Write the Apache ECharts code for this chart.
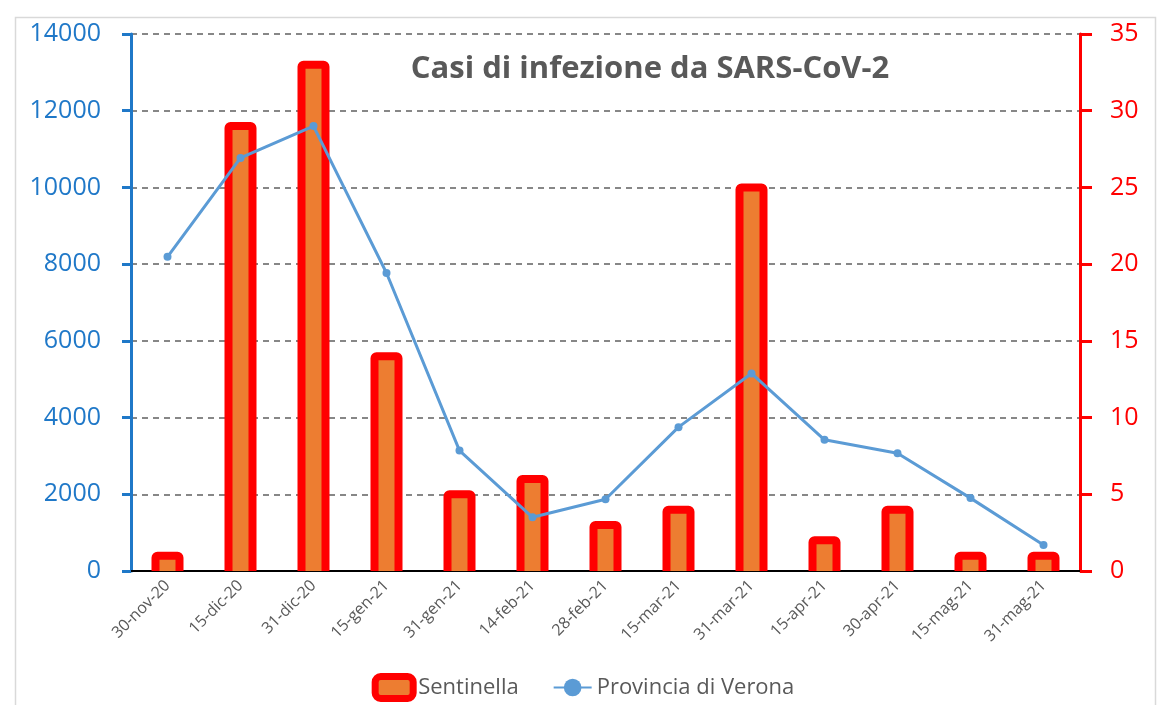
<!DOCTYPE html>
<html>
<head>
<meta charset="utf-8">
<script src="https://cdn.jsdelivr.net/npm/echarts@6/dist/echarts.min.js"></script>
<style>html,body{margin:0;padding:0;background:#fff;}#c{width:1166px;height:705px;}</style>
</head>
<body>
<div id="c"></div>
<script>
const categories = ['30-nov-20','15-dic-20','31-dic-20','15-gen-21','31-gen-21','14-feb-21','28-feb-21','15-mar-21','31-mar-21','15-apr-21','30-apr-21','15-mag-21','31-mag-21'];
const sentinella = [1, 29, 33, 14, 5, 6, 3, 4, 25, 2, 4, 1, 1];
const verona = [8190, 10770, 11600, 7770, 3140, 1400, 1870, 3750, 5150, 3420, 3070, 1900, 680];
const leftTicks = {min: 0, max: 14000, interval: 2000};
const rightTicks = {min: 0, max: 35, interval: 5};

const BAR_W = 24, BORDER = 8;
const chart = echarts.init(document.getElementById('c'));
chart.setOption({
  animation: false,
  backgroundColor: '#fff',
  graphic: [{
    type: 'rect', left: 13, top: 15, shape: {width: 1140, height: 700},
    style: {fill: 'none', stroke: '#D9D9D9', lineWidth: 1.5}, silent: true, z: -1
  }],
  title: {
    text: 'Casi di infezione da SARS-CoV-2',
    left: 645, top: 49, textAlign: 'center',
    textStyle: {fontFamily: 'Open Sans', fontWeight: 'bold', fontSize: 31, color: '#595959'}
  },
  grid: {left: 131, right: 86, top: 34, bottom: 134, containLabel: false},
  legend: {
    bottom: -2, left: 'center', itemGap: 34,
    textStyle: {fontFamily: 'Open Sans', fontSize: 22, color: '#595959'},
    data: [
      {name: 'Sentinella', itemStyle: {color: '#ED7D31', borderColor: '#FF0000', borderWidth: 7}, icon: 'roundRect'},
      {name: 'Provincia di Verona'}
    ],
    itemWidth: 38, itemHeight: 22
  },
  xAxis: {
    type: 'category', data: categories,
    axisLine: {show: true, lineStyle: {color: '#000', width: 2}},
    axisTick: {show: false},
    axisLabel: {rotate: 45, margin: 12, fontFamily: 'Open Sans', fontSize: 16, color: '#595959', interval: 0}
  },
  yAxis: [{
    type: 'value', position: 'left', min: leftTicks.min, max: leftTicks.max, interval: leftTicks.interval,
    axisLine: {show: true, lineStyle: {color: '#1F78C8', width: 3}},
    axisTick: {show: true, length: 9, lineStyle: {color: '#1F78C8', width: 3}},
    axisLabel: {margin: 30, fontFamily: 'Open Sans', fontSize: 25, color: '#1F78C8', formatter: v => String(v)},
    splitLine: {show: true, lineStyle: {type: [6, 5], color: '#606060', width: 1.5}}
  }, {
    type: 'value', position: 'right', min: rightTicks.min, max: rightTicks.max, interval: rightTicks.interval,
    axisLine: {show: true, lineStyle: {color: '#FF0000', width: 3}},
    axisTick: {show: true, length: 12, lineStyle: {color: '#FF0000', width: 3}},
    axisLabel: {margin: 30, fontFamily: 'Open Sans', fontSize: 25, color: '#FF0000'},
    splitLine: {show: false}
  }],
  series: [{
    name: 'Sentinella', type: 'custom', yAxisIndex: 1,
    data: sentinella.map((v, i) => [i, v]),
    encode: {x: 0, y: 1},
    clip: true,
    itemStyle: {color: '#ED7D31', borderColor: '#FF0000', borderWidth: 7},
    renderItem: function (params, api) {
      const top = api.coord([api.value(0), api.value(1)]);
      const base = api.coord([api.value(0), 0]);
      return {
        type: 'rect',
        shape: {x: top[0] - BAR_W / 2, y: top[1], width: BAR_W, height: base[1] - top[1] + BORDER, r: 2},
        style: {fill: '#ED7D31', stroke: '#FF0000', lineWidth: BORDER, lineJoin: 'round'}
      };
    },
    z: 2
  }, {
    name: 'Provincia di Verona', type: 'line', yAxisIndex: 0, data: verona,
    symbol: 'circle', symbolSize: 8,
    lineStyle: {color: '#5B9BD5', width: 3},
    itemStyle: {color: '#5B9BD5'},
    z: 3
  }]
});
</script>
</body>
</html>
